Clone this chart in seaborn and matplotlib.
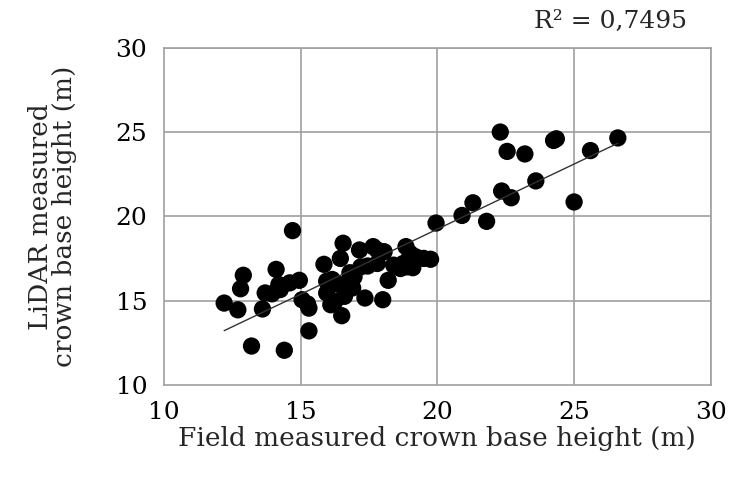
import matplotlib
matplotlib.use("Agg")
import matplotlib.pyplot as plt
import seaborn as sns
import pandas as pd

# Field vs. LiDAR crown base height (m)
field_cbh = [
    12.2, 12.7, 12.8, 12.9, 13.2, 13.6, 13.7, 13.95, 14.1, 14.2, 14.25, 14.4,
    14.6, 14.7, 14.95, 15.05, 15.25, 15.3, 15.3,
    15.85, 15.95, 15.95, 16.1, 16.15, 16.25, 16.4, 16.45, 16.5, 16.55, 16.6,
    16.75, 16.8, 16.9, 16.95, 17.15, 17.2, 17.35, 17.45, 17.65, 17.8, 17.8,
    18.0, 18.05, 18.2, 18.4, 18.65, 18.75, 18.85, 18.9, 19.0, 19.1, 19.2,
    19.5, 19.75,
    19.95, 20.9, 21.3, 21.8, 22.3, 22.35, 22.55, 22.7, 23.2, 23.6, 24.25,
    24.35, 25.0, 25.6, 26.6,
]
lidar_cbh = [
    14.85, 14.45, 15.7, 16.5, 12.3, 14.5, 15.45, 15.4, 16.85, 15.95, 15.65, 12.05,
    16.05, 19.15, 16.2, 15.05, 14.8, 14.55, 13.2,
    17.15, 15.45, 16.15, 14.75, 16.25, 14.95, 15.95, 17.5, 14.1, 18.4, 15.25,
    16.15, 16.65, 15.75, 16.4, 18.0, 17.0, 15.15, 17.05, 18.2, 17.2, 18.0,
    15.05, 17.9, 16.2, 17.1, 16.9, 17.2, 18.2, 17.0, 17.8, 16.95, 17.6,
    17.5, 17.45,
    19.6, 20.05, 20.8, 19.7, 25.0, 21.5, 23.85, 21.1, 23.7, 22.1, 24.5,
    24.6, 20.85, 23.9, 24.65,
]
r2_label = "R² = 0,7495"
x_ticks = [10, 15, 20, 25, 30]
y_ticks = [10, 15, 20, 25, 30]

df = pd.DataFrame({"field": field_cbh, "lidar": lidar_cbh})

sns.set_style("white")
plt.rcParams["font.family"] = ["DejaVu Serif"]

fig = plt.figure(figsize=(7.29, 4.78), dpi=100)
ax = fig.add_axes([0.225, 0.195, 0.75, 0.705])

grid_color = "#a0a0a0"
sns.regplot(
    data=df, x="field", y="lidar", ax=ax, ci=None, truncate=True,
    scatter_kws=dict(s=155, color="black", edgecolor="none", alpha=1, zorder=3),
    line_kws=dict(color="#333333", lw=1.0, zorder=4),
)

ax.set_xlim(10, 30)
ax.set_ylim(10, 30)
ax.set_xticks(x_ticks)
ax.set_yticks(y_ticks)
ax.grid(False)
for v in y_ticks[1:]:
    ax.axhline(v, color=grid_color, lw=1.2, zorder=1)
for v in x_ticks[1:]:
    ax.axvline(v, color=grid_color, lw=1.2, zorder=1)
for side in ["left", "bottom", "top", "right"]:
    ax.spines[side].set_color(grid_color)
    ax.spines[side].set_linewidth(1.2)

ax.tick_params(axis="both", direction="out", length=7, width=1.2,
               color=grid_color, labelsize=18, labelcolor="black")
ax.tick_params(axis="x", pad=5)
ax.tick_params(axis="y", pad=5)

ax.set_xlabel("Field measured crown base height (m)", fontsize=19, labelpad=1)
ax.set_ylabel("LiDAR measured\ncrown base height (m)", fontsize=19,
              labelpad=28, linespacing=0.95)

fig.text(0.942, 0.955, r2_label, ha="right", va="center", fontsize=18)

fig.savefig("out.png", dpi=100)
